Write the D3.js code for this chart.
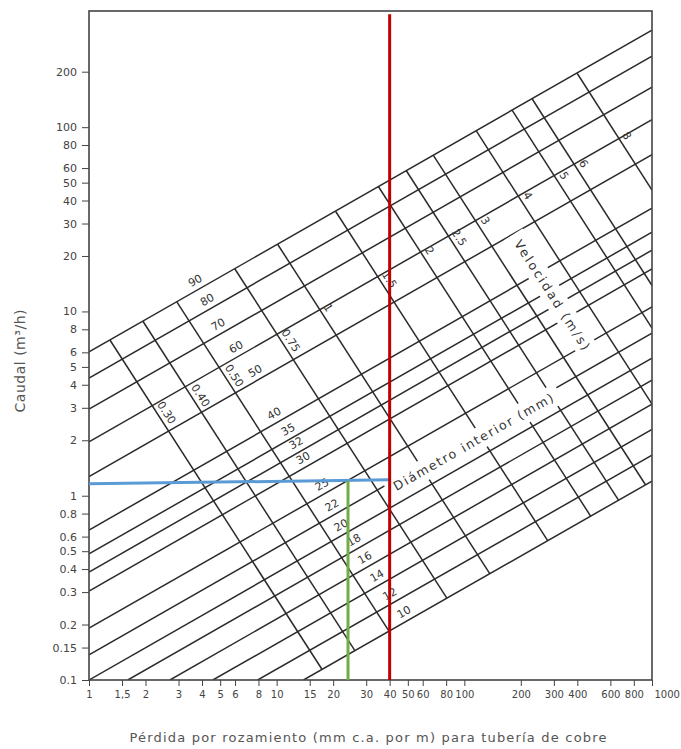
<!DOCTYPE html>
<html>
<head>
<meta charset="utf-8">
<script src="https://cdn.jsdelivr.net/npm/d3@7"></script>
<style>
  body { margin: 0; background: #fff; }
  svg { display: block; }
</style>
</head>
<body>
<div id="chart"></div>
<script>
const width = 681;
const height = 749;

// axis ticks
const xTicks = [1, 1.5, 2, 3, 4, 5, 6, 8, 10, 15, 20, 30, 40, 50, 60, 80, 100, 200, 300, 400, 600, 800, 1000];
const yTicks = [0.1, 0.15, 0.2, 0.3, 0.4, 0.5, 0.6, 0.8, 1, 2, 3, 4, 5, 6, 8, 10, 20, 30, 40, 50, 60, 80, 100, 200];

// diameter lines (mm): start / end as [loss mm/m, flow m3/h]
const diameters = [90, 80, 70, 60, 50, 40, 35, 32, 30, 25, 22, 20, 18, 16, 14, 12, 10];
const diamStart = [[1, 6.03], [1, 4.35], [1, 2.95], [1, 1.96], [1, 1.27], [1, 0.651], [1, 0.483], [1, 0.385],
  [1, 0.304], [1, 0.191], [1, 0.137], [1, 0.1], [1.61, 0.1], [2.70, 0.1], [4.57, 0.1], [7.92, 0.1], [13.9, 0.1]];
const diamEnd = [[1000, 336], [1000, 243], [1000, 165], [1000, 110], [1000, 71], [1000, 36.4], [1000, 26.9], [1000, 21.5],
  [1000, 17.0], [1000, 10.6], [1000, 7.63], [1000, 5.58], [1000, 4.24], [1000, 3.14], [1000, 2.29], [1000, 1.66], [1000, 1.20]];
const diamLabelJ = [3.89, 4.51, 5.16, 6.43, 8.12, 10.25, 12.17, 13.42, 14.62, 18.45, 20.85, 23.3, 27.3, 31.2, 36.2, 42.4, 50.4];

// velocity lines (m/s)
const velocities = [0.3, 0.4, 0.5, 0.75, 1, 1.5, 2, 2.5, 3, 4, 5, 6, 8];
const velStart = [[1.293, 7.00], [1.938, 8.85], [2.938, 11.28], [5.98, 17.05], [10.12, 23.15], [20.6, 34.98], [34.9, 47.5],
  [49.1, 58.0], [68.4, 70.3], [115.8, 95.5], [180, 123.4], [230, 142.2], [399, 196.1]];
const velEnd = [[17.46, 0.114], [26.16, 0.144], [39.67, 0.184], [80.7, 0.278], [136.6, 0.378], [278, 0.571], [471, 0.775],
  [663, 0.946], [923, 1.147], [1000, 3.14], [1000, 8.13], [1000, 13.83], [1000, 45.5]];
const velLabelQ = [2.67, 3.31, 4.24, 6.57, 9.92, 14.08, 20.2, 23.8, 29.4, 40.2, 51.6, 60.0, 85.1];

// reading lines drawn over the chart
const redLine = [[40, 0.1], [40, 410]];
const blueLine = [[1, 1.16], [40, 1.22]];
const greenLine = [[24, 0.1], [24, 1.2]];

// in-chart titles, anchored in data units
const diamTitleAt = [111.6, 1.96];
const velTitleAt = [294, 12.3];

const x = d3.scaleLog().domain([1, 1000]).range([89, 652]);
const y = d3.scaleLog().domain([0.1, 427]).range([680, 11]);

const svg = d3.select("#chart")
  .append("svg")
  .attr("width", width)
  .attr("height", height)
  .style("font-family", "'DejaVu Sans', sans-serif");

svg.append("rect").attr("width", width).attr("height", height).attr("fill", "#fff");

svg.append("defs").append("clipPath")
  .attr("id", "plot-clip")
  .append("rect")
  .attr("x", x(1)).attr("y", y(427))
  .attr("width", x(1000) - x(1)).attr("height", y(0.1) - y(427));

const line = d3.line().x(d => x(d[0])).y(d => y(d[1]));

const g = svg.append("g").attr("clip-path", "url(#plot-clip)");

g.selectAll(".diam")
  .data(diameters)
  .enter().append("path")
  .attr("class", "diam")
  .attr("d", (d, i) => line([diamStart[i], diamEnd[i]]))
  .attr("fill", "none")
  .attr("stroke", "#2b2b2b")
  .attr("stroke-width", 1.5);

g.selectAll(".vel")
  .data(velocities)
  .enter().append("path")
  .attr("class", "vel")
  .attr("d", (d, i) => line([velStart[i], velEnd[i]]))
  .attr("fill", "none")
  .attr("stroke", "#2b2b2b")
  .attr("stroke-width", 1.5);

function px(p) { return [x(p[0]), y(p[1])]; }
function angleOf(a, b) {
  const p0 = px(a), p1 = px(b);
  return Math.atan2(p1[1] - p0[1], p1[0] - p0[0]);
}

const diamAngle = angleOf(diamStart[0], diamEnd[0]);
const velAngle = angleOf(velStart[0], velEnd[0]);
const deg = r => r * 180 / Math.PI;

// diameter labels
diameters.forEach((d, i) => {
  const p0 = px(diamStart[i]), p1 = px(diamEnd[i]);
  const lx = x(diamLabelJ[i]);
  const t = (lx - p0[0]) / (p1[0] - p0[0]);
  const ly = p0[1] + t * (p1[1] - p0[1]);
  const off = 9;
  const cx = lx + Math.sin(diamAngle) * off;
  const cy = ly - Math.cos(diamAngle) * off;
  g.append("text")
    .attr("transform", `translate(${cx},${cy}) rotate(${deg(diamAngle)})`)
    .attr("text-anchor", "middle")
    .attr("dominant-baseline", "central")
    .style("font-size", "11px")
    .attr("fill", "#333")
    .text(d);
});

// velocity labels
velocities.forEach((v, i) => {
  const p0 = px(velStart[i]), p1 = px(velEnd[i]);
  const ly = y(velLabelQ[i]);
  const t = (ly - p0[1]) / (p1[1] - p0[1]);
  const lx = p0[0] + t * (p1[0] - p0[0]);
  const off = 8;
  const cx = lx + Math.sin(velAngle) * off;
  const cy = ly - Math.cos(velAngle) * off;
  g.append("text")
    .attr("transform", `translate(${cx},${cy}) rotate(${deg(velAngle)})`)
    .attr("text-anchor", "middle")
    .attr("dominant-baseline", "central")
    .style("font-size", "11px")
    .attr("fill", "#333")
    .text(v < 1 ? v.toFixed(2) : String(v));
});

// titles inside the grid, on a white band
function bandText(at, angle, label, len) {
  const [cx, cy] = px(at);
  const t = g.append("g").attr("transform", `translate(${cx},${cy}) rotate(${deg(angle)})`);
  t.append("rect")
    .attr("x", -len / 2 - 8).attr("y", -11)
    .attr("width", len + 16).attr("height", 22)
    .attr("fill", "#fff");
  t.append("text")
    .attr("text-anchor", "middle")
    .attr("dominant-baseline", "central")
    .attr("textLength", len)
    .attr("lengthAdjust", "spacing")
    .style("font-size", "12.5px")
    .attr("fill", "#333")
    .text(label);
}
bandText(diamTitleAt, diamAngle, "Diámetro interior (mm)", 182);
bandText(velTitleAt, velAngle, "Velocidad (m/s)", 128);

// axes
const xAxis = svg.append("g")
  .attr("transform", `translate(0,${y(0.1)})`)
  .call(d3.axisBottom(x).tickValues(xTicks).tickSize(6).tickPadding(5)
    .tickFormat(d => d === 1.5 ? "1,5" : d3.format("~g")(d)));
xAxis.select(".domain").remove();
xAxis.selectAll("line").attr("stroke", "#444");
xAxis.selectAll("text").style("font-size", "10px").style("font-family", "'DejaVu Sans', sans-serif").attr("fill", "#444");
xAxis.selectAll(".tick").filter(d => d === 1000).select("text").attr("text-anchor", "start").attr("x", 2);

const yAxis = svg.append("g")
  .attr("transform", `translate(${x(1)},0)`)
  .call(d3.axisLeft(y).tickValues(yTicks).tickSize(7).tickPadding(5)
    .tickFormat(d3.format("~g")));
yAxis.select(".domain").remove();
yAxis.selectAll("line").attr("stroke", "#444");
yAxis.selectAll("text").style("font-size", "11px").style("font-family", "'DejaVu Sans', sans-serif").attr("fill", "#444");

// frame
svg.append("rect")
  .attr("x", x(1)).attr("y", y(427))
  .attr("width", x(1000) - x(1)).attr("height", y(0.1) - y(427))
  .attr("fill", "none")
  .attr("stroke", "#444")
  .attr("stroke-width", 1.6);

// axis titles
svg.append("text")
  .attr("x", 368).attr("y", 742)
  .attr("text-anchor", "middle")
  .attr("textLength", 477)
  .attr("lengthAdjust", "spacing")
  .style("font-size", "13px")
  .attr("fill", "#555")
  .text("Pérdida por rozamiento (mm c.a. por m) para tubería de cobre");

svg.append("text")
  .attr("transform", "translate(25,361) rotate(-90)")
  .attr("text-anchor", "middle")
  .attr("textLength", 103)
  .attr("lengthAdjust", "spacing")
  .style("font-size", "14px")
  .attr("fill", "#555")
  .text("Caudal (m³/h)");

// reading lines
const marks = [
  { pts: blueLine, color: "#5b9bd5" },
  { pts: greenLine, color: "#70ad47" },
  { pts: redLine, color: "#c00000" }
];
svg.selectAll(".mark")
  .data(marks)
  .enter().append("path")
  .attr("class", "mark")
  .attr("d", d => line(d.pts))
  .attr("fill", "none")
  .attr("stroke", d => d.color)
  .attr("stroke-width", 3);
</script>
</body>
</html>
